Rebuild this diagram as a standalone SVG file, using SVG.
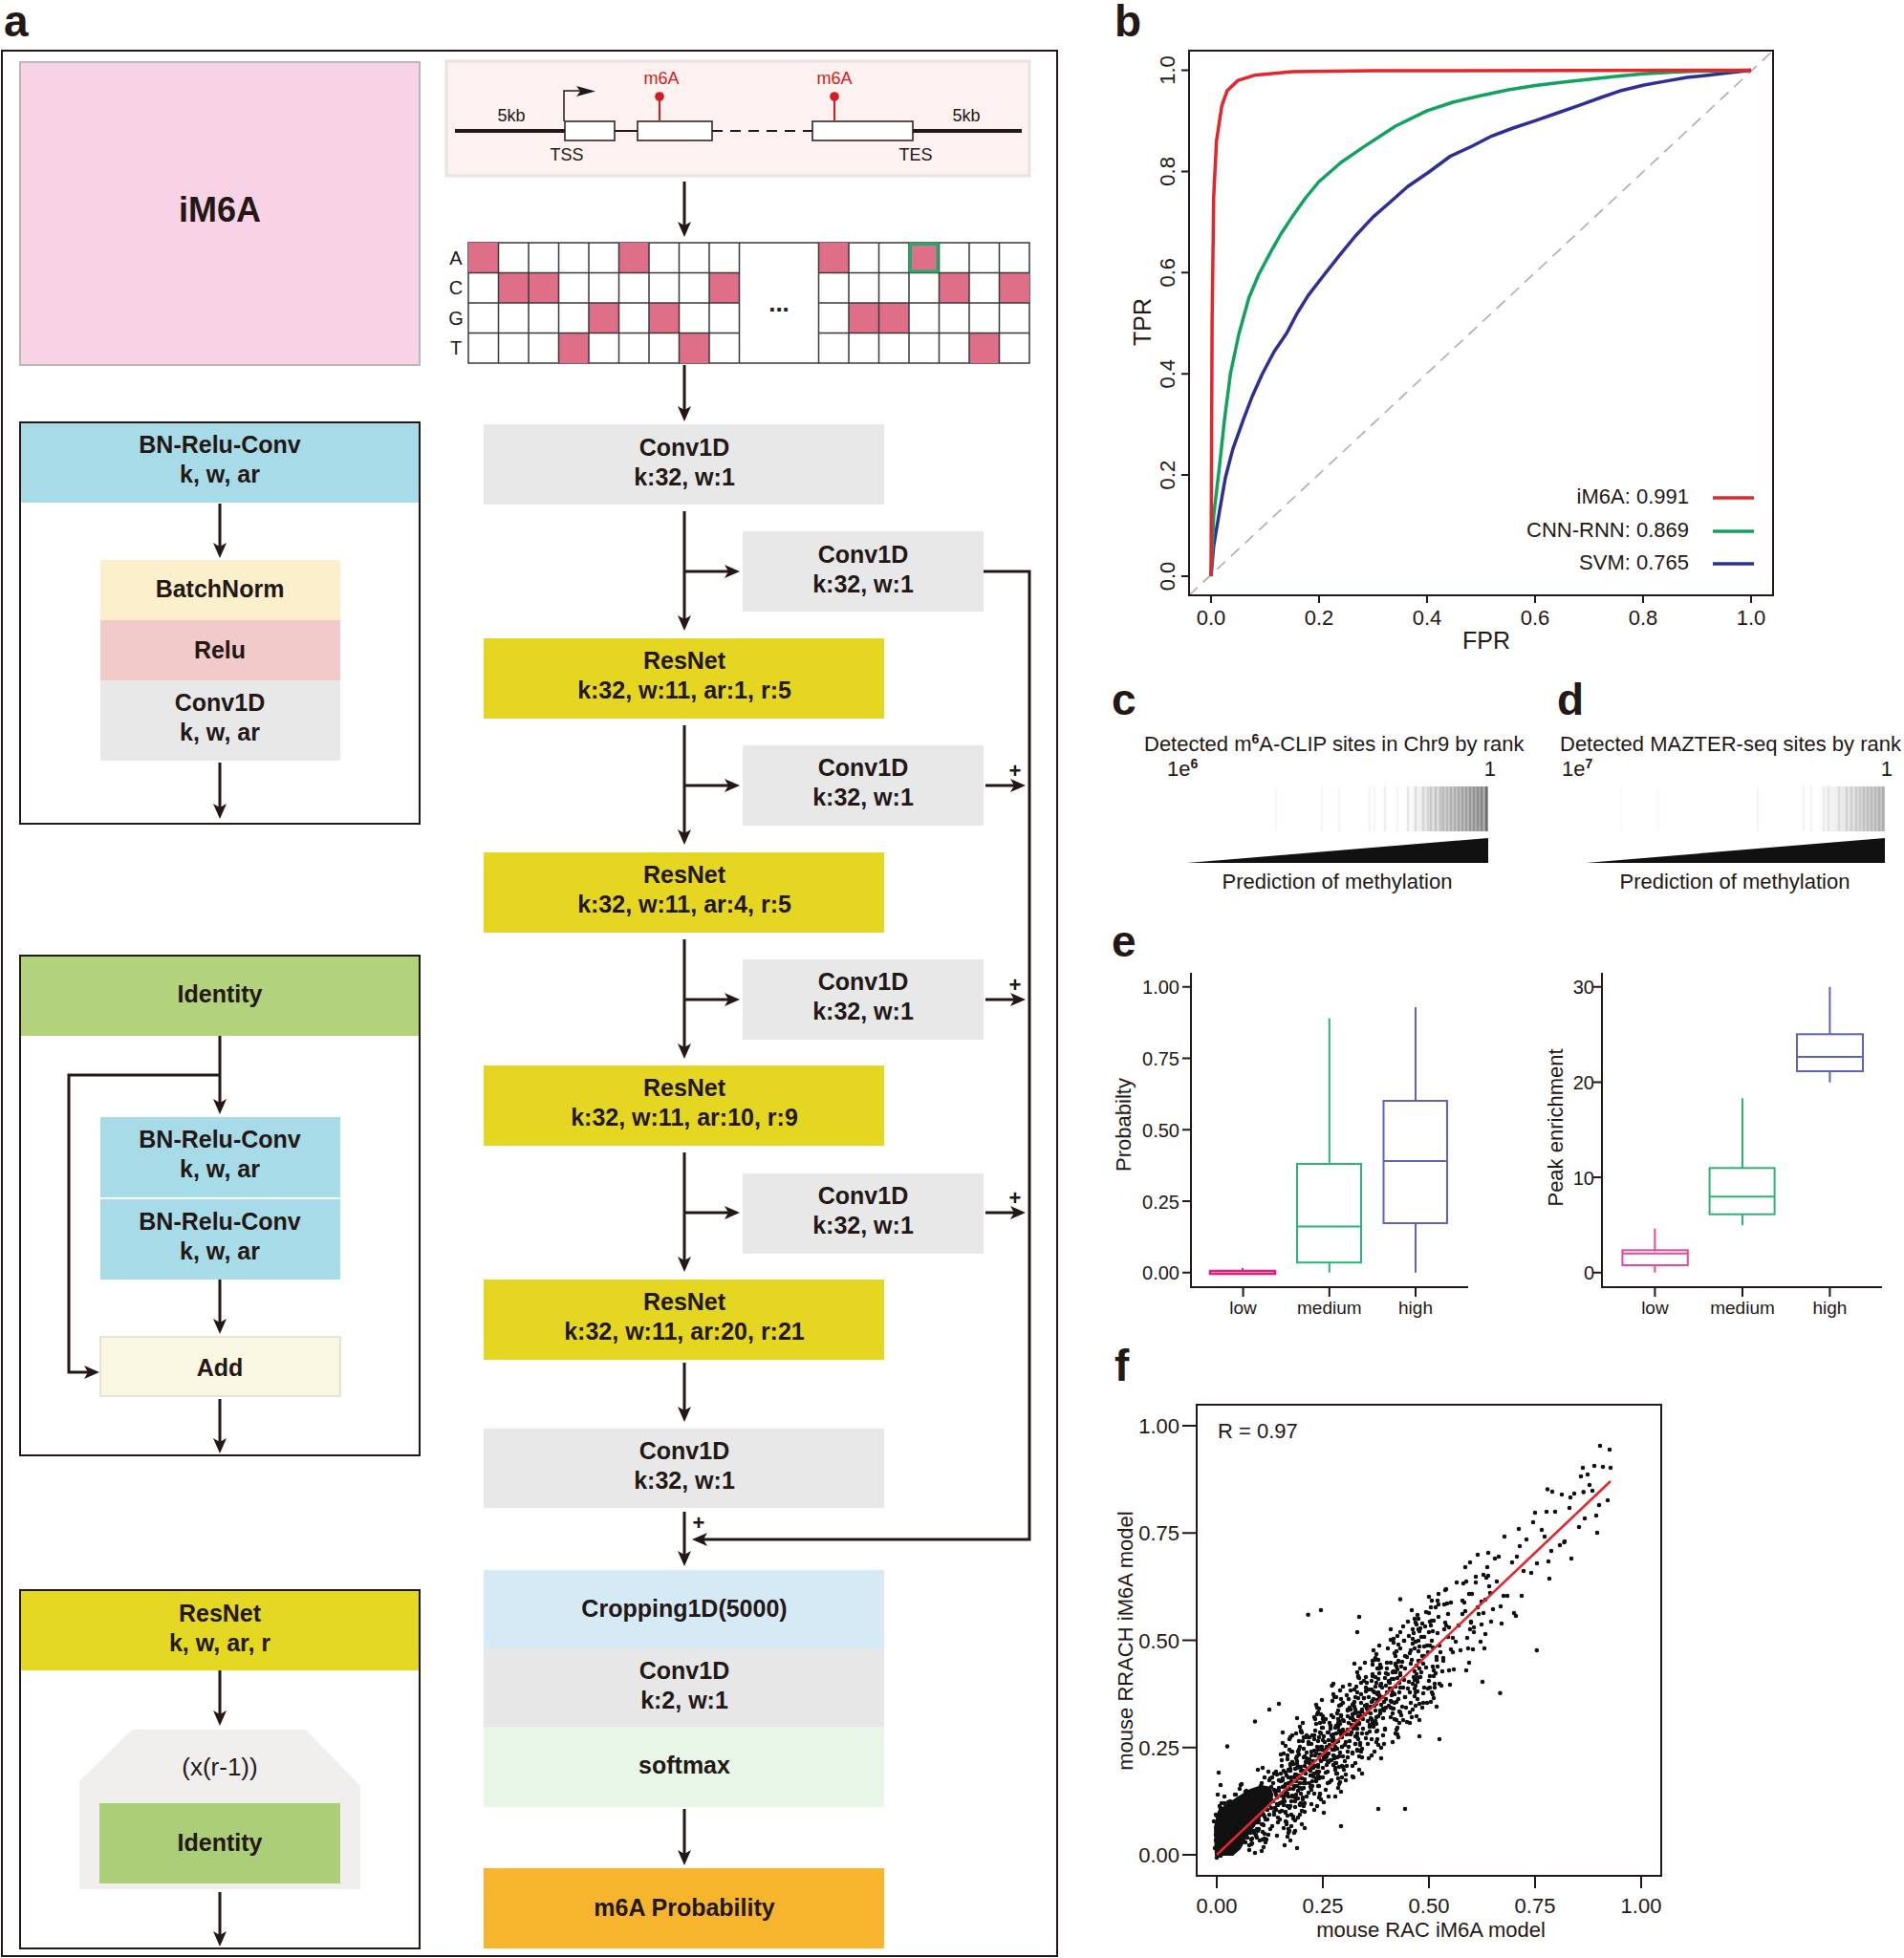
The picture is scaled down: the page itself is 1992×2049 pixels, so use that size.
<svg xmlns="http://www.w3.org/2000/svg" width="1992" height="2049" viewBox="0 0 1992 2049">
<style>
text{font-family:"Liberation Sans",Arial,sans-serif;fill:#231815}
.c{text-anchor:middle}
.e{text-anchor:end}
.b{font-weight:bold}
.n{font-size:25px;font-weight:bold;text-anchor:middle}
.lab{font-size:46px;font-weight:bold}
.ln{stroke:#231815;stroke-width:3;fill:none}
.arr{stroke:#231815;stroke-width:3;fill:none;marker-end:url(#ah)}
.frame{fill:none;stroke:#231815;stroke-width:2}
.ax{stroke:#231815;stroke-width:2;fill:none}
.tk{font-size:22px}
.dots{stroke:#111;stroke-width:4.6;stroke-linecap:round;fill:none}
.bc line{stroke:#555;stroke-width:2.5}
</style>
<defs>
<marker id="ah" viewBox="0 0 16 14" refX="12" refY="7" markerWidth="16" markerHeight="14" markerUnits="userSpaceOnUse" orient="auto"><path d="M0,0 L16,7 L0,14 L4,7 Z" fill="#231815"/></marker>
<clipPath id="bclip"><rect x="1244" y="53" width="611" height="570"/></clipPath>
<linearGradient id="gc" x1="0" x2="1" y1="0" y2="0"><stop offset="0" stop-color="#555" stop-opacity="0"/><stop offset="1" stop-color="#555" stop-opacity=".5"/></linearGradient>
<linearGradient id="gd" x1="0" x2="1" y1="0" y2="0"><stop offset="0" stop-color="#666" stop-opacity="0"/><stop offset="1" stop-color="#666" stop-opacity=".35"/></linearGradient>
<path id="A" class="dots" d="M-3-31h0M2 12h0M4-8h0M-1 24h0M0-17h0M-4 5h0M3 33h0M1-4h0M-2-2h0M5 17h0M-5-13h0M2-24h0M-3 9h0M4 1h0"/>
<path id="B" class="dots" d="M1-9h0M-4 20h0M3-36h0M-2 3h0M5-20h0M0 41h0M-5-1h0M2 14h0M-1-27h0M4 8h0M-3-12h0M1 29h0M-4-44h0M3-5h0"/>
<path id="C" class="dots" d="M2-48h0M-3 15h0M4-6h0M-1 37h0M0-22h0M-5 3h0M3-13h0M-2 52h0M5 24h0M1-33h0"/>
<path id="D" class="dots" d="M-2-30h0M3 11h0M-4-4h0M1 40h0M4-51h0M0 22h0"/>
<path id="E" class="dots" d="M-3-20h0M2 15h0M4-38h0"/>
<path id="L" class="dots" d="M-4-5h0M-1-18h0M2 3h0M4-29h0M0-9h0M-3-40h0M3-2h0M1-23h0M-2 5h0M5-14h0M-5-33h0M2-47h0M0-12h0M-2-1h0"/>
<path id="M" class="dots" d="M-4-6h0M1-21h0M3 2h0M-2-35h0M5-12h0M0-44h0M-5-17h0M2-3h0M-1-27h0M4-50h0M-3 4h0M1-9h0M-4-30h0M3-39h0M0-15h0M5-24h0M-2-2h0M2-33h0M-5-11h0M4 1h0"/>
<path id="F" class="dots" d="M-4-22h0M1 6h0M3-11h0M-2 17h0M5-3h0M0-28h0M-5 10h0M2 25h0M-1-7h0M4 14h0M-3-16h0M1-1h0M-4 3h0M3-19h0M0 12h0M5-26h0M-2-9h0M2 20h0M-5-4h0M4 5h0"/>
<path id="G" class="dots" d="M2-38h0M-3 7h0M4 22h0M-1-15h0M0 33h0M-5-26h0M3-3h0M1 12h0M-4-42h0M5-9h0M-2 27h0M2-20h0M-3 41h0M0-6h0M4-31h0M-5 17h0M1 2h0M3-12h0M-1 36h0M-4-1h0"/>
<path id="H" class="dots" d="M3-55h0M-2 44h0M4-28h0M-5 58h0M1-47h0M0 30h0M-3-60h0M5 38h0M-1-36h0M2 51h0M-4-18h0M3 25h0M0-51h0M-5 47h0M4-40h0M1 19h0M-2-25h0M5 55h0M-3-8h0M2-45h0"/>
</defs>
<rect width="1992" height="2049" fill="#fff"/>

<!-- ===== Panel a ===== -->
<text x="4" y="38" class="lab">a</text>
<rect x="2" y="53" width="1104" height="1994" class="frame"/>

<g id="im6a-box">
<rect x="21" y="65" width="418" height="317" fill="#f8d3e5" stroke="#bdb5b5" stroke-width="2"/>
<text x="230" y="232" class="c b" font-size="36">iM6A</text>
</g>

<g id="bn-relu-conv-def">
<rect x="21" y="442" width="418" height="420" class="frame"/>
<rect x="22" y="443" width="416" height="83" fill="#a8dbe8"/>
<text x="230" y="474" class="n">BN-Relu-Conv</text>
<text x="230" y="505" class="n">k, w, ar</text>
<rect x="105" y="586" width="251" height="63" fill="#fbefcc"/>
<text x="230" y="625" class="n">BatchNorm</text>
<rect x="105" y="649" width="251" height="63" fill="#f2caca"/>
<text x="230" y="689" class="n">Relu</text>
<rect x="105" y="712" width="251" height="84" fill="#e8e8e8"/>
<text x="230" y="744" class="n">Conv1D</text>
<text x="230" y="775" class="n">k, w, ar</text>
</g>

<g id="identity-def">
<rect x="21" y="1000" width="418" height="523" class="frame"/>
<rect x="22" y="1001" width="416" height="83" fill="#b2d27b"/>
<text x="230" y="1049" class="n">Identity</text>
<rect x="105" y="1169" width="251" height="84" fill="#a8dbe8"/>
<text x="230" y="1201" class="n">BN-Relu-Conv</text>
<text x="230" y="1232" class="n">k, w, ar</text>
<rect x="105" y="1255" width="251" height="84" fill="#a8dbe8"/>
<text x="230" y="1287" class="n">BN-Relu-Conv</text>
<text x="230" y="1318" class="n">k, w, ar</text>
<rect x="105" y="1399" width="251" height="62" fill="#f9f7e1" stroke="#dedbd0" stroke-width="1.5"/>
<text x="230" y="1440" class="n">Add</text>
</g>

<g id="resnet-def">
<rect x="21" y="1664" width="418" height="375" class="frame"/>
<rect x="22" y="1665" width="416" height="83" fill="#e5d823"/>
<text x="230" y="1697" class="n">ResNet</text>
<text x="230" y="1728" class="n">k, w, ar, r</text>
<polygon points="138,1810 320,1810 377,1869 377,1977 83,1977 83,1864" fill="#f0efee"/>
<text x="230" y="1858" class="c" font-size="26">(x(r-1))</text>
<rect x="104" y="1887" width="252" height="84" fill="#acce78"/>
<text x="230" y="1937" class="n">Identity</text>
</g>

<g id="gene-model">
<rect x="467" y="64" width="610" height="120" fill="#fdf2f0" stroke="#e7e3e2" stroke-width="3"/>
<line x1="476" y1="137" x2="591" y2="137" stroke="#231815" stroke-width="4"/>
<line x1="643" y1="137" x2="667" y2="137" stroke="#231815" stroke-width="2"/>
<line x1="745" y1="137" x2="850" y2="137" stroke="#231815" stroke-width="2" stroke-dasharray="11 8"/>
<line x1="955" y1="137" x2="1069" y2="137" stroke="#231815" stroke-width="4"/>
<rect x="591" y="127" width="52" height="20" fill="#fff" stroke="#231815" stroke-width="1.5"/>
<rect x="667" y="127" width="78" height="20" fill="#fff" stroke="#231815" stroke-width="1.5"/>
<rect x="850" y="127" width="105" height="20" fill="#fff" stroke="#231815" stroke-width="1.5"/>
<polyline points="590,127 590,95 607,95" fill="none" stroke="#231815" stroke-width="1.5"/>
<polygon points="603,90 623,95.5 603,101 607,95.5" fill="#231815"/>
<line x1="690" y1="127" x2="690" y2="101" stroke="#d71920" stroke-width="2"/>
<circle cx="690" cy="101" r="4.8" fill="#d71920"/>
<line x1="873" y1="127" x2="873" y2="101" stroke="#d71920" stroke-width="2"/>
<circle cx="873" cy="101" r="4.8" fill="#d71920"/>
<text x="692" y="88" class="c" font-size="18" style="fill:#d71920">m6A</text>
<text x="873" y="88" class="c" font-size="18" style="fill:#d71920">m6A</text>
<text x="535" y="127" class="c" font-size="18">5kb</text>
<text x="1011" y="127" class="c" font-size="18">5kb</text>
<text x="593" y="168" class="c" font-size="18">TSS</text>
<text x="958" y="168" class="c" font-size="18">TES</text>
</g>

<g id="onehot-grid">
<rect x="490" y="254" width="587" height="126" fill="#fff" stroke="#3a3a3a" stroke-width="1.5"/>
<g fill="#df6e88">
<rect x="490" y="254" width="31.5" height="31.5"/><rect x="647.5" y="254" width="31.5" height="31.5"/>
<rect x="856.5" y="254" width="31.5" height="31.5"/><rect x="951" y="254" width="31.5" height="31.5"/>
<rect x="521.5" y="285.5" width="63" height="31.5"/><rect x="742" y="285.5" width="31.5" height="31.5"/>
<rect x="982.5" y="285.5" width="31.5" height="31.5"/><rect x="1045.5" y="285.5" width="31.5" height="31.5"/>
<rect x="616" y="317" width="31.5" height="31.5"/><rect x="679" y="317" width="31.5" height="31.5"/>
<rect x="888" y="317" width="63" height="31.5"/>
<rect x="584.5" y="348.5" width="31.5" height="31.5"/><rect x="710.5" y="348.5" width="31.5" height="31.5"/>
<rect x="1014" y="348.5" width="31.5" height="31.5"/>
</g>
<path d="M521.5 254V380M553 254V380M584.5 254V380M616 254V380M647.5 254V380M679 254V380M710.5 254V380M742 254V380M773.5 254V380M856.5 254V380M888 254V380M919.5 254V380M951 254V380M982.5 254V380M1014 254V380M1045.5 254V380M490 285.5H773.5M490 317H773.5M490 348.5H773.5M856.5 285.5H1077M856.5 317H1077M856.5 348.5H1077" stroke="#3a3a3a" stroke-width="1.5" fill="none"/>
<rect x="952.5" y="255.5" width="28.5" height="28.5" fill="none" stroke="#1fae67" stroke-width="3"/>
<text x="477" y="277" class="c" font-size="20">A</text>
<text x="477" y="308" class="c" font-size="20">C</text>
<text x="477" y="340" class="c" font-size="20">G</text>
<text x="477" y="371" class="c" font-size="20">T</text>
<text x="815" y="326" class="c b" font-size="26">...</text>
</g>

<g id="conv1d-1"><rect x="506" y="444" width="419" height="84" fill="#e8e8e8"/><text x="716" y="477" class="n">Conv1D</text><text x="716" y="508" class="n">k:32, w:1</text></g>
<g id="side-conv-1"><rect x="777" y="556" width="252" height="84" fill="#e8e8e8"/><text x="903" y="589" class="n">Conv1D</text><text x="903" y="620" class="n">k:32, w:1</text></g>
<g id="resnet-1"><rect x="506" y="668" width="419" height="84" fill="#e5d721"/><text x="716" y="700" class="n">ResNet</text><text x="716" y="731" class="n">k:32, w:11, ar:1, r:5</text></g>
<g id="side-conv-2"><rect x="777" y="780" width="252" height="84" fill="#e8e8e8"/><text x="903" y="812" class="n">Conv1D</text><text x="903" y="843" class="n">k:32, w:1</text></g>
<g id="resnet-2"><rect x="506" y="892" width="419" height="84" fill="#e5d721"/><text x="716" y="924" class="n">ResNet</text><text x="716" y="955" class="n">k:32, w:11, ar:4, r:5</text></g>
<g id="side-conv-3"><rect x="777" y="1004" width="252" height="84" fill="#e8e8e8"/><text x="903" y="1036" class="n">Conv1D</text><text x="903" y="1067" class="n">k:32, w:1</text></g>
<g id="resnet-3"><rect x="506" y="1115" width="419" height="84" fill="#e5d721"/><text x="716" y="1147" class="n">ResNet</text><text x="716" y="1178" class="n">k:32, w:11, ar:10, r:9</text></g>
<g id="side-conv-4"><rect x="777" y="1228" width="252" height="84" fill="#e8e8e8"/><text x="903" y="1260" class="n">Conv1D</text><text x="903" y="1291" class="n">k:32, w:1</text></g>
<g id="resnet-4"><rect x="506" y="1339" width="419" height="84" fill="#e5d721"/><text x="716" y="1371" class="n">ResNet</text><text x="716" y="1402" class="n">k:32, w:11, ar:20, r:21</text></g>
<g id="conv1d-final"><rect x="506" y="1495" width="419" height="83" fill="#e8e8e8"/><text x="716" y="1527" class="n">Conv1D</text><text x="716" y="1558" class="n">k:32, w:1</text></g>
<g id="output-stack">
<rect x="506" y="1643" width="419" height="82" fill="#d5eaf5"/><text x="716" y="1692" class="n">Cropping1D(5000)</text>
<rect x="506" y="1725" width="419" height="82" fill="#e7e7e7"/><text x="716" y="1757" class="n">Conv1D</text><text x="716" y="1788" class="n">k:2, w:1</text>
<rect x="506" y="1807" width="419" height="84" fill="#e7f6e6"/><text x="716" y="1856" class="n">softmax</text>
</g>
<g id="m6a-probability"><rect x="506" y="1955" width="419" height="84" fill="#f7b52e"/><text x="716" y="2005" class="n">m6A Probability</text></g>

<g id="connectors">
<line x1="230" y1="527" x2="230" y2="580" class="arr"/>
<line x1="230" y1="798" x2="230" y2="853" class="arr"/>
<line x1="230" y1="1084" x2="230" y2="1162" class="arr"/>
<polyline points="230,1125 72,1125 72,1436 100,1436" class="arr"/>
<line x1="230" y1="1339" x2="230" y2="1392" class="arr"/>
<line x1="230" y1="1464" x2="230" y2="1517" class="arr"/>
<line x1="230" y1="1748" x2="230" y2="1802" class="arr"/>
<line x1="230" y1="1980" x2="230" y2="2033" class="arr"/>
<line x1="716" y1="190" x2="716" y2="244" class="arr"/>
<line x1="716" y1="382" x2="716" y2="437" class="arr"/>
<line x1="716" y1="535" x2="716" y2="656" class="arr"/>
<line x1="716" y1="759" x2="716" y2="880" class="arr"/>
<line x1="716" y1="983" x2="716" y2="1104" class="arr"/>
<line x1="716" y1="1206" x2="716" y2="1327" class="arr"/>
<line x1="716" y1="1426" x2="716" y2="1484" class="arr"/>
<line x1="716" y1="1582" x2="716" y2="1635" class="arr"/>
<line x1="716" y1="1893" x2="716" y2="1948" class="arr"/>
<line x1="716" y1="598" x2="770" y2="598" class="arr"/>
<line x1="716" y1="822" x2="770" y2="822" class="arr"/>
<line x1="716" y1="1046" x2="770" y2="1046" class="arr"/>
<line x1="716" y1="1269" x2="770" y2="1269" class="arr"/>
<polyline points="1029,598 1077,598 1077,1611 728,1611" class="arr"/>
<line x1="1031" y1="822" x2="1069" y2="822" class="arr"/>
<line x1="1031" y1="1046" x2="1069" y2="1046" class="arr"/>
<line x1="1031" y1="1269" x2="1069" y2="1269" class="arr"/>
<text x="1062" y="814" class="c b" font-size="22">+</text>
<text x="1062" y="1038" class="c b" font-size="22">+</text>
<text x="1062" y="1261" class="c b" font-size="22">+</text>
<text x="731" y="1601" class="c b" font-size="22">+</text>
</g>

<!-- ===== Panel b ===== -->
<g id="panel-b">
<text x="1166" y="38" class="lab">b</text>
<line x1="1244" y1="623" x2="1855" y2="53" stroke="#a8a8a8" stroke-width="1.5" stroke-dasharray="12 8" clip-path="url(#bclip)"/>
<polyline clip-path="url(#bclip)" fill="none" stroke="#2d2f95" stroke-width="3.5" stroke-linejoin="round" points="1267,603 1269.8,571.2 1276,534.2 1282,500 1289.6,470.6 1300.9,438.9 1310,415 1320.7,391.2 1333,368 1346.1,348.8 1357,328 1368.7,309.1 1385,288 1400.9,267.8 1418,247 1436.5,227.1 1455,211 1472.7,195.3 1495,180 1517.3,163.5 1540,153 1560.8,142.3 1583,134 1606,126.4 1630,118 1651.2,110.6 1675,102 1696.4,94.7 1720,89 1741.6,85.1 1765,81 1786.8,78.8 1810,76 1832,73.5"/>
<polyline clip-path="url(#bclip)" fill="none" stroke="#12a25f" stroke-width="3.5" stroke-linejoin="round" points="1267,603 1269.8,539.5 1276,486.5 1281,440 1287.3,391.2 1296,350 1306.6,311.8 1317,287 1329.2,264.1 1340,245 1351.8,227.1 1366,207 1380,190 1403,170 1428,152.9 1460,132 1493,115.9 1520,107 1549.5,100 1578,94 1606,89.4 1635,86 1662.5,83 1690,80 1719,77.2 1750,75.5 1775.5,74.6 1805,74 1832,73.5"/>
<polyline clip-path="url(#bclip)" fill="none" stroke="#e3262b" stroke-width="3.5" stroke-linejoin="round" points="1267,603 1268.1,338.3 1269.8,205.9 1272.7,147.6 1278.3,110.6 1284,94.7 1295.3,84.1 1312.2,78.8 1351.8,75.1 1436.5,74 1832,73.5"/>
<rect x="1244" y="53" width="611" height="570" class="ax"/>
<path d="M1267 623v8M1380 623v8M1493 623v8M1606 623v8M1719 623v8M1832 623v8M1244 603h-8M1244 497.1h-8M1244 391.2h-8M1244 285.3h-8M1244 179.4h-8M1244 73.5h-8" class="ax"/>
<g class="tk">
<text x="1267" y="654" class="c">0.0</text><text x="1380" y="654" class="c">0.2</text><text x="1493" y="654" class="c">0.4</text>
<text x="1606" y="654" class="c">0.6</text><text x="1719" y="654" class="c">0.8</text><text x="1832" y="654" class="c">1.0</text>
<text class="c" transform="translate(1229,603) rotate(-90)">0.0</text>
<text class="c" transform="translate(1229,497.1) rotate(-90)">0.2</text>
<text class="c" transform="translate(1229,391.2) rotate(-90)">0.4</text>
<text class="c" transform="translate(1229,285.3) rotate(-90)">0.6</text>
<text class="c" transform="translate(1229,179.4) rotate(-90)">0.8</text>
<text class="c" transform="translate(1229,73.5) rotate(-90)">1.0</text>
</g>
<text class="c" font-size="25" transform="translate(1204,337) rotate(-90)">TPR</text>
<text x="1555" y="679" class="c" font-size="25">FPR</text>
<text x="1767" y="527" class="e tk">iM6A: 0.991</text>
<text x="1767" y="562" class="e tk">CNN-RNN: 0.869</text>
<text x="1767" y="596" class="e tk">SVM: 0.765</text>
<line x1="1792" y1="521" x2="1835" y2="521" stroke="#e3262b" stroke-width="3.5"/>
<line x1="1792" y1="556" x2="1835" y2="556" stroke="#12a25f" stroke-width="3.5"/>
<line x1="1792" y1="590" x2="1835" y2="590" stroke="#2d2f95" stroke-width="3.5"/>
</g>

<!-- ===== Panel c ===== -->
<g id="panel-c">
<text x="1163" y="748" class="lab">c</text>
<text x="1197" y="786" class="tk">Detected m<tspan dy="-8" font-size="14" font-weight="bold">6</tspan><tspan dy="8">A-CLIP sites in Chr9 by rank</tspan></text>
<text x="1221" y="812" class="tk">1e<tspan dy="-8" font-size="14" font-weight="bold">6</tspan></text>
<text x="1565" y="812" class="e tk">1</text>
<rect x="1470" y="823" width="87" height="47" fill="url(#gc)"/>
<g class="bc">
<line x1="1335" y1="823" x2="1335" y2="870" stroke-opacity=".04"/><line x1="1383" y1="823" x2="1383" y2="870" stroke-opacity=".05"/>
<line x1="1401" y1="823" x2="1401" y2="870" stroke-opacity=".06"/><line x1="1433" y1="823" x2="1433" y2="870" stroke-opacity=".07"/>
<line x1="1438" y1="823" x2="1438" y2="870" stroke-opacity=".06"/><line x1="1449" y1="823" x2="1449" y2="870" stroke-opacity=".1"/>
<line x1="1462" y1="823" x2="1462" y2="870" stroke-opacity=".07"/><line x1="1473" y1="823" x2="1473" y2="870" stroke-opacity=".12"/>
<line x1="1481" y1="823" x2="1481" y2="870" stroke-opacity=".15"/><line x1="1489" y1="823" x2="1489" y2="870" stroke-opacity=".15"/>
<line x1="1494" y1="823" x2="1494" y2="870" stroke-opacity=".12"/><line x1="1497" y1="823" x2="1497" y2="870" stroke-opacity=".18"/>
<line x1="1502" y1="823" x2="1502" y2="870" stroke-opacity=".2"/><line x1="1507" y1="823" x2="1507" y2="870" stroke-opacity=".18"/>
<line x1="1510" y1="823" x2="1510" y2="870" stroke-opacity=".22"/><line x1="1514" y1="823" x2="1514" y2="870" stroke-opacity=".2"/>
<line x1="1518" y1="823" x2="1518" y2="870" stroke-opacity=".25"/><line x1="1522" y1="823" x2="1522" y2="870" stroke-opacity=".25"/>
<line x1="1526" y1="823" x2="1526" y2="870" stroke-opacity=".28"/><line x1="1530" y1="823" x2="1530" y2="870" stroke-opacity=".3"/>
<line x1="1534" y1="823" x2="1534" y2="870" stroke-opacity=".3"/><line x1="1538" y1="823" x2="1538" y2="870" stroke-opacity=".35"/>
<line x1="1542" y1="823" x2="1542" y2="870" stroke-opacity=".38"/><line x1="1546" y1="823" x2="1546" y2="870" stroke-opacity=".4"/>
<line x1="1550" y1="823" x2="1550" y2="870" stroke-opacity=".45"/><line x1="1555" y1="823" x2="1555" y2="870" stroke-opacity=".7"/>
</g>
<polygon points="1242,903 1557,877 1557,903" fill="#111"/>
<text x="1399" y="930" class="c tk">Prediction of methylation</text>
</g>

<!-- ===== Panel d ===== -->
<g id="panel-d">
<text x="1629" y="748" class="lab">d</text>
<text x="1632" y="786" class="tk">Detected MAZTER-seq sites by rank</text>
<text x="1634" y="812" class="tk">1e<tspan dy="-8" font-size="14" font-weight="bold">7</tspan></text>
<text x="1980" y="812" class="e tk">1</text>
<rect x="1900" y="823" width="72" height="47" fill="url(#gd)"/>
<g class="bc">
<line x1="1696" y1="823" x2="1696" y2="870" stroke-opacity=".03"/><line x1="1735" y1="823" x2="1735" y2="870" stroke-opacity=".03"/>
<line x1="1839" y1="823" x2="1839" y2="870" stroke-opacity=".05"/><line x1="1887" y1="823" x2="1887" y2="870" stroke-opacity=".07"/>
<line x1="1895" y1="823" x2="1895" y2="870" stroke-opacity=".07"/><line x1="1908" y1="823" x2="1908" y2="870" stroke-opacity=".09"/>
<line x1="1913" y1="823" x2="1913" y2="870" stroke-opacity=".11"/><line x1="1924" y1="823" x2="1924" y2="870" stroke-opacity=".11"/>
<line x1="1932" y1="823" x2="1932" y2="870" stroke-opacity=".14"/><line x1="1937" y1="823" x2="1937" y2="870" stroke-opacity=".14"/>
<line x1="1942" y1="823" x2="1942" y2="870" stroke-opacity=".16"/><line x1="1946" y1="823" x2="1946" y2="870" stroke-opacity=".14"/>
<line x1="1950" y1="823" x2="1950" y2="870" stroke-opacity=".18"/><line x1="1954" y1="823" x2="1954" y2="870" stroke-opacity=".18"/>
<line x1="1958" y1="823" x2="1958" y2="870" stroke-opacity=".2"/><line x1="1962" y1="823" x2="1962" y2="870" stroke-opacity=".2"/>
<line x1="1966" y1="823" x2="1966" y2="870" stroke-opacity=".22"/><line x1="1970" y1="823" x2="1970" y2="870" stroke-opacity=".25"/>
</g>
<polygon points="1659,903 1972,877 1972,903" fill="#111"/>
<text x="1815" y="930" class="c tk">Prediction of methylation</text>
</g>

<!-- ===== Panel e ===== -->
<g id="panel-e">
<text x="1163" y="1001" class="lab">e</text>
<path d="M1246 1018V1347H1536M1246 1032.7h-9M1246 1107.5h-9M1246 1182.2h-9M1246 1257h-9M1246 1331.7h-9M1300.6 1347v10M1390.8 1347v10M1481 1347v10" class="ax"/>
<g font-size="20">
<text x="1234" y="1040" class="e">1.00</text><text x="1234" y="1115" class="e">0.75</text>
<text x="1234" y="1190" class="e">0.50</text><text x="1234" y="1265" class="e">0.25</text>
<text x="1234" y="1339" class="e">0.00</text>
</g>
<text class="c" font-size="22" transform="translate(1183,1177) rotate(-90)">Probabilty</text>
<g font-size="19" class="c">
<text x="1300.6" y="1375">low</text><text x="1390.8" y="1375">medium</text><text x="1481" y="1375">high</text>
</g>
<g fill="none" stroke-width="2">
<g stroke="#e0207a"><rect x="1266" y="1330" width="68" height="3" stroke-width="2.5"/><line x1="1300" y1="1327" x2="1300" y2="1330"/></g>
<g stroke="#2bb574"><line x1="1390.8" y1="1065.6" x2="1390.8" y2="1218"/><rect x="1357" y="1218" width="67" height="103.2"/><line x1="1357" y1="1283.5" x2="1424" y2="1283.5"/><line x1="1390.8" y1="1321.2" x2="1390.8" y2="1331.7"/></g>
<g stroke="#5f62c0"><line x1="1481" y1="1054" x2="1481" y2="1152"/><rect x="1447.5" y="1152" width="66.5" height="128"/><line x1="1447.5" y1="1215" x2="1514" y2="1215"/><line x1="1481" y1="1280" x2="1481" y2="1331.7"/></g>
</g>
<path d="M1676 1018V1347H1969M1676 1032.7h-9M1676 1132.4h-9M1676 1232h-9M1676 1331.7h-9M1731.4 1347v10M1823 1347v10M1914.4 1347v10" class="ax"/>
<g font-size="20">
<text x="1668" y="1040" class="e">30</text><text x="1668" y="1140" class="e">20</text>
<text x="1668" y="1240" class="e">10</text><text x="1668" y="1339" class="e">0</text>
</g>
<text class="c" font-size="22" transform="translate(1635,1180) rotate(-90)">Peak enrichment</text>
<g font-size="19" class="c">
<text x="1731.4" y="1375">low</text><text x="1823" y="1375">medium</text><text x="1914.4" y="1375">high</text>
</g>
<g fill="none" stroke-width="2">
<g stroke="#e94896"><line x1="1731.4" y1="1285.7" x2="1731.4" y2="1308.3"/><rect x="1697.4" y="1308.3" width="68.4" height="15.7"/><line x1="1697.4" y1="1311.7" x2="1765.8" y2="1311.7"/><line x1="1731.4" y1="1324" x2="1731.4" y2="1331.7"/></g>
<g stroke="#2bb574"><line x1="1823" y1="1149.3" x2="1823" y2="1222.3"/><rect x="1788.6" y="1222.3" width="68" height="48.4"/><line x1="1788.6" y1="1252.3" x2="1856.6" y2="1252.3"/><line x1="1823" y1="1270.7" x2="1823" y2="1282.3"/></g>
<g stroke="#5f62c0"><line x1="1914.4" y1="1032.7" x2="1914.4" y2="1082.3"/><rect x="1880" y="1082.3" width="69" height="38.7"/><line x1="1880" y1="1106" x2="1949" y2="1106"/><line x1="1914.4" y1="1121" x2="1914.4" y2="1132.7"/></g>
</g>
</g>

<!-- ===== Panel f ===== -->
<g id="panel-f">
<text x="1166" y="1445" class="lab">f</text>
<polygon points="1271,1942 1270,1912 1274,1895 1283,1888 1295,1880 1308,1872 1320,1868 1330,1870 1332,1880 1325,1893 1315,1908 1305,1922 1298,1935 1290,1942" fill="#111"/>
<use href="#M" transform="translate(1277,1937)"/>
<use href="#M" transform="translate(1285,1930) scale(-1,1)"/>
<use href="#M" transform="translate(1293,1922)"/>
<use href="#L" transform="translate(1301,1914) scale(-1,1)"/>
<use href="#F" transform="translate(1305,1911)"/>
<use href="#F" transform="translate(1312,1904) scale(-1,1)"/>
<use href="#F" transform="translate(1318,1898) scale(1,-1)"/>
<use href="#G" transform="translate(1325,1892)"/>
<use href="#F" transform="translate(1335,1882)"/>
<use href="#G" transform="translate(1345,1873) scale(-1,1)"/>
<use href="#F" transform="translate(1355,1863) scale(1,-1)"/>
<use href="#G" transform="translate(1365,1854)"/>
<use href="#F" transform="translate(1375,1844) scale(-1,1)"/>
<use href="#G" transform="translate(1385,1835) scale(1,-1)"/>
<use href="#F" transform="translate(1395,1825)"/>
<use href="#G" transform="translate(1405,1816) scale(-1,1)"/>
<use href="#F" transform="translate(1415,1806) scale(1,-1)"/>
<use href="#G" transform="translate(1425,1797)"/>
<use href="#F" transform="translate(1435,1787) scale(-1,1)"/>
<use href="#G" transform="translate(1445,1778) scale(1,-1)"/>
<use href="#F" transform="translate(1455,1768)"/>
<use href="#G" transform="translate(1465,1759) scale(-1,1)"/>
<use href="#C" transform="translate(1475,1749) scale(1,-1)"/>
<use href="#G" transform="translate(1485,1740) scale(-1,-1)"/>
<use href="#C" transform="translate(1495,1730)"/>
<use href="#C" transform="translate(1515,1711) scale(-1,1)"/>
<use href="#C" transform="translate(1535,1692) scale(1,-1)"/>
<use href="#C" transform="translate(1555,1673)"/>
<use href="#H" transform="translate(1347,1871) scale(1,-1)"/>
<use href="#H" transform="translate(1360,1858)"/>
<use href="#H" transform="translate(1380,1839) scale(-1,1)"/>
<use href="#H" transform="translate(1400,1820) scale(1,-1)"/>
<use href="#H" transform="translate(1420,1801)"/>
<use href="#H" transform="translate(1440,1782) scale(-1,1)"/>
<use href="#H" transform="translate(1460,1763) scale(1,-1)"/>
<use href="#H" transform="translate(1480,1745)"/>
<use href="#H" transform="translate(1500,1726) scale(-1,-1)"/>
<use href="#L" transform="translate(1275,1939)"/>
<use href="#L" transform="translate(1280,1934) scale(-1,1)"/>
<use href="#L" transform="translate(1290,1925)"/>
<use href="#L" transform="translate(1300,1915) scale(-1,1)"/>
<use href="#A" transform="translate(1310,1906)"/>
<use href="#B" transform="translate(1320,1896)"/>
<use href="#A" transform="translate(1330,1887) scale(-1,1)"/>
<use href="#B" transform="translate(1340,1877) scale(1,-1)"/>
<use href="#A" transform="translate(1350,1868)"/>
<use href="#C" transform="translate(1352,1866) scale(-1,1)"/>
<use href="#B" transform="translate(1360,1858)"/>
<use href="#E" transform="translate(1362,1856)"/>
<use href="#A" transform="translate(1370,1849) scale(1,-1)"/>
<use href="#D" transform="translate(1371,1848)"/>
<use href="#B" transform="translate(1380,1840) scale(-1,1)"/>
<use href="#D" transform="translate(1382,1838) scale(-1,1)"/>
<use href="#A" transform="translate(1390,1830)"/>
<use href="#C" transform="translate(1392,1828)"/>
<use href="#B" transform="translate(1400,1820)"/>
<use href="#E" transform="translate(1402,1818) scale(-1,-1)"/>
<use href="#C" transform="translate(1410,1811)"/>
<use href="#D" transform="translate(1412,1809) scale(1,-1)"/>
<use href="#A" transform="translate(1420,1801) scale(-1,-1)"/>
<use href="#C" transform="translate(1430,1792) scale(1,-1)"/>
<use href="#E" transform="translate(1432,1790)"/>
<use href="#B" transform="translate(1440,1782)"/>
<use href="#C" transform="translate(1450,1773)"/>
<use href="#C" transform="translate(1460,1763) scale(-1,1)"/>
<use href="#C" transform="translate(1470,1754) scale(1,-1)"/>
<use href="#D" transform="translate(1480,1745)"/>
<use href="#E" transform="translate(1482,1743) scale(-1,1)"/>
<use href="#C" transform="translate(1490,1735)"/>
<use href="#D" transform="translate(1500,1726)"/>
<use href="#E" transform="translate(1502,1724) scale(1,-1)"/>
<use href="#C" transform="translate(1510,1716) scale(-1,-1)"/>
<use href="#D" transform="translate(1520,1707)"/>
<use href="#D" transform="translate(1530,1697) scale(1,-1)"/>
<use href="#E" transform="translate(1540,1688)"/>
<use href="#D" transform="translate(1542,1686) scale(-1,1)"/>
<use href="#D" transform="translate(1550,1678) scale(-1,1)"/>
<use href="#E" transform="translate(1560,1669)"/>
<use href="#D" transform="translate(1570,1659)"/>
<use href="#E" transform="translate(1580,1650) scale(1,-1)"/>
<use href="#D" transform="translate(1590,1640) scale(-1,-1)"/>
<use href="#E" transform="translate(1600,1631)"/>
<use href="#E" transform="translate(1610,1621) scale(-1,1)"/>
<use href="#D" transform="translate(1620,1612)"/>
<use href="#E" transform="translate(1630,1602)"/>
<use href="#E" transform="translate(1640,1593) scale(1,-1)"/>
<use href="#E" transform="translate(1650,1583)"/>
<use href="#E" transform="translate(1660,1574) scale(-1,1)"/>
<use href="#D" transform="translate(1670,1564)"/>
<use href="#E" transform="translate(1680,1555)"/>
<path class="dots" d="M1368.6 1689.7h0M1382 1685h0M1607.8 1727h0M1569.5 1771.7h0M1551 1760h0M1661 1543h0M1685 1536h0M1656.7 1561.4h0M1619 1558.5h0M1643 1567h0M1636.5 1614h0M1485 1817h0M1506 1820h0M1442 1893h0M1470 1893h0M1403 1911h0M1357 1934h0M1313 1801.5h0M1284 1827.6h0M1465 1673.6h0M1420 1708h0M1422 1692h0M1443 1745.6h0M1393.5 1764h0M1328 1789h0M1338 1783h0M1275 1855h0M1277 1868h0M1274 1878h0M1276 1890h0M1273 1900h0"/>
<line x1="1273" y1="1941" x2="1685" y2="1550" stroke="#e3262b" stroke-width="2.5"/>
<rect x="1252" y="1470" width="486" height="493" class="ax"/>
<path d="M1273 1963v13M1384 1963v13M1495 1963v13M1606 1963v13M1717 1963v13M1252 1941h-15M1252 1828.75h-15M1252 1716.5h-15M1252 1604.25h-15M1252 1492h-15" class="ax"/>
<g class="tk">
<text x="1273" y="2002" class="c">0.00</text><text x="1384" y="2002" class="c">0.25</text><text x="1495" y="2002" class="c">0.50</text>
<text x="1606" y="2002" class="c">0.75</text><text x="1717" y="2002" class="c">1.00</text>
<text x="1234" y="1949" class="e">0.00</text><text x="1234" y="1837" class="e">0.25</text><text x="1234" y="1724.5" class="e">0.50</text>
<text x="1234" y="1612" class="e">0.75</text><text x="1234" y="1500" class="e">1.00</text>
<text x="1274" y="1505">R = 0.97</text>
<text x="1497" y="2027" class="c">mouse RAC iM6A model</text>
<text class="c" transform="translate(1185,1717) rotate(-90)">mouse RRACH iM6A model</text>
</g>
</g>
</svg>
